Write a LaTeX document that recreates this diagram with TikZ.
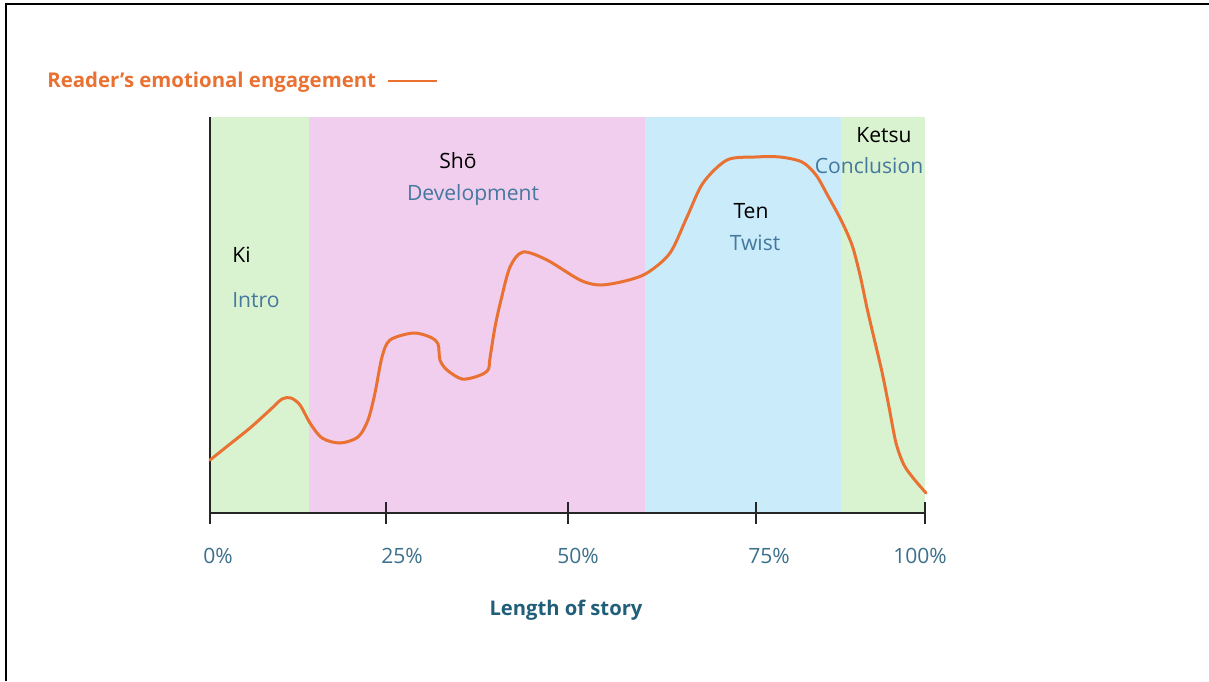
\documentclass[tikz,border=0pt]{standalone}
\usepackage{fontspec}
\setmainfont{Open Sans}
\usepackage{tikz}

\definecolor{kiGreen}{RGB}{217,242,208}
\definecolor{shoPink}{RGB}{241,206,238}
\definecolor{tenBlue}{RGB}{201,235,250}
\definecolor{curveOrange}{RGB}{233,113,50}
\definecolor{phaseBlue}{RGB}{68,120,158}
\definecolor{axisTeal}{RGB}{60,112,140}
\definecolor{titleTeal}{RGB}{33,94,121}

\tikzset{
    phase/.style={anchor=base, text=black},
    phasename/.style={anchor=base, text=phaseBlue},
    percent/.style={anchor=base, text=axisTeal},
    axisline/.style={line width=1.1pt, draw=black!85}
}

\begin{document}
\begin{tikzpicture}[x=0.02cm, y=-0.02cm,
    every node/.style={inner sep=0pt, font=\fontsize{12}{14}\selectfont}]
    \useasboundingbox (0,0) rectangle (1209,681);
    \draw[line width=1.6pt] (6,681) -- (6,4) -- (1209,4);

    % the four parts of the story
    \fill[kiGreen] (210,117) rectangle (309,513);
    \fill[shoPink] (309,117) rectangle (645,513);
    \fill[tenBlue] (645,117) rectangle (841,513);
    \fill[kiGreen] (841,117) rectangle (925,513);

    % axes
    \draw[axisline] (210,117) -- (210,513) -- (925,513);
    \draw[axisline] (210,513) -- (210,524);
    \foreach \x in {386,568,756,925}
        \draw[axisline] (\x,502) -- (\x,524);

    \node[percent] (p0) at (218,563) {0\%};
    \node[percent] (p25) at (402,563) {25\%};
    \node[percent] (p50) at (578,563) {50\%};
    \node[percent] (p75) at (769,563) {75\%};
    \node[percent] (p100) at (920,563) {100\%};
    \node[anchor=base, text=titleTeal, font=\bfseries\fontsize{11.5}{14}\selectfont]
        (xlabel) at (566,615) {Length of story};

    \node[anchor=base west, text=curveOrange, font=\bfseries\fontsize{11.6}{14}\selectfont]
        (title) at (47,87) {Reader's emotional engagement};
    \coordinate (keyA) at (388,81);
    \coordinate (keyB) at (437,81);
    \draw[curveOrange, line width=1.4pt] (keyA) -- (keyB);

    \node[phase, anchor=base west] (ki) at (232,262) {Ki};
    \node[phasename, anchor=base west] (intro) at (232,307) {Intro};
    \node[phase] (sho) at (458,168) {Shō};
    \node[phasename] (dev) at (473,200) {Development};
    \node[phase] (ten) at (751,218) {Ten};
    \node[phasename] (twist) at (755,250) {Twist};
    \node[phase] (ketsu) at (884,142) {Ketsu};
    \node[phasename] (concl) at (869,173) {Conclusion};

    % engagement curve
    \draw[curveOrange, line width=1.7pt, line cap=round] plot[smooth, tension=0.5] coordinates {
        (210,460) (230,444) (250,428) (270,410) (282,399) (291,398) (300,405)
        (310,423) (322,438) (340,443) (358,437) (368,420) (375,393) (382,357)
        (390,340) (413,333) (430,337) (438,344) (440,360) (447,370) (462,379)
        (478,376) (488,370) (490,358) (495,327) (501,300) (510,267) (523,252)
        (547,260) (580,280) (600,285) (625,281) (647,273) (670,253) (687,217)
        (703,183) (727,160) (755,157) (780,157) (802,162) (816,175) (828,196)
        (841,220) (852,245) (860,275) (867,308) (874,338) (882,372) (889,407)
        (896,443) (904,465) (914,479) (926,493)};
\end{tikzpicture}
\end{document}
